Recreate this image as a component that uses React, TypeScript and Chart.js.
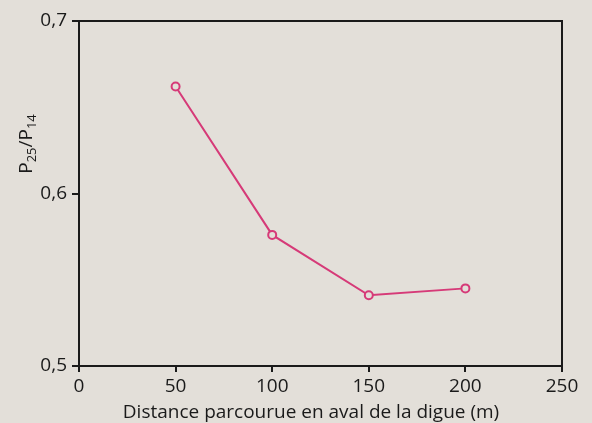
import React, { useEffect, useRef } from "react";
import { Chart, registerables } from "chart.js";

Chart.register(...registerables);

const distances = [50, 100, 150, 200];
const ratios = [0.662, 0.576, 0.541, 0.545];
const xTicks = [0, 50, 100, 150, 200, 250];
const yTicks = [0.5, 0.6, 0.7];
const xTitle = "Distance parcourue en aval de la digue (m)";
const yTitleParts = [
  { t: "P", sub: false },
  { t: "25", sub: true },
  { t: "/P", sub: false },
  { t: "14", sub: true },
];

const BG = "#e3dfd9";
const LINE = "#d63a78";
const FONT = "'Open Sans', sans-serif";
const INK = "#1a1a1a";

const framePlugin = {
  id: "frame",
  beforeDraw(chart: any) {
    const { ctx, width, height } = chart;
    ctx.save();
    ctx.fillStyle = BG;
    ctx.fillRect(0, 0, width, height);
    ctx.restore();
  },
  afterDraw(chart: any) {
    const { ctx, chartArea } = chart;
    ctx.save();
    ctx.strokeStyle = INK;
    ctx.lineWidth = 2;
    ctx.beginPath();
    ctx.moveTo(chartArea.left, chartArea.top);
    ctx.lineTo(chartArea.right, chartArea.top);
    ctx.lineTo(chartArea.right, chartArea.bottom);
    ctx.stroke();
    // x title
    ctx.fillStyle = INK;
    ctx.font = `19px ${FONT}`;
    ctx.textAlign = "center";
    ctx.textBaseline = "alphabetic";
    ctx.fillText(xTitle, 311, 418);
    // y title with subscripts
    ctx.textAlign = "left";
    ctx.translate(32, 144);
    ctx.rotate(-Math.PI / 2);
    const big = `19px ${FONT}`;
    const small = `13px ${FONT}`;
    let total = 0;
    for (const p of yTitleParts) {
      ctx.font = p.sub ? small : big;
      total += ctx.measureText(p.t).width;
    }
    let x = -total / 2;
    for (const p of yTitleParts) {
      ctx.font = p.sub ? small : big;
      ctx.fillText(p.t, x, p.sub ? 4 : 0);
      x += ctx.measureText(p.t).width;
    }
    ctx.restore();
  },
};

export default function App() {
  const ref = useRef<HTMLCanvasElement>(null);
  useEffect(() => {
    document.body.style.margin = "0";
    document.body.style.background = BG;
    const chart = new Chart(ref.current!, {
      type: "line",
      data: {
        datasets: [
          {
            data: distances.map((d, i) => ({ x: d, y: ratios[i] })),
            borderColor: LINE,
            borderWidth: 2,
            pointRadius: 4,
            pointBorderWidth: 2,
            pointBorderColor: LINE,
            pointBackgroundColor: BG,
            tension: 0,
          },
        ],
      },
      options: {
        animation: false,
        responsive: false,
        layout: { padding: { left: 0, top: 21, right: 30, bottom: 0 } },
        plugins: { legend: { display: false }, tooltip: { enabled: false } },
        scales: {
          x: {
            type: "linear",
            min: 0,
            max: 250,
            afterBuildTicks: (s: any) => {
              s.ticks = xTicks.map((v) => ({ value: v }));
            },
            afterFit: (s: any) => {
              s.height = 57;
            },
            grid: {
              drawOnChartArea: false,
              drawTicks: true,
              tickLength: 6,
              color: INK,
              lineWidth: 2,
            },
            border: { display: true, color: INK, width: 2 },
            ticks: {
              color: INK,
              font: { family: FONT, size: 19 },
              padding: 3,
              maxRotation: 0,
              callback: (v: any) => String(v),
            },
          },
          y: {
            type: "linear",
            min: 0.5,
            max: 0.7,
            afterBuildTicks: (s: any) => {
              s.ticks = yTicks.map((v) => ({ value: v }));
            },
            afterFit: (s: any) => {
              s.width = 79;
            },
            grid: {
              drawOnChartArea: false,
              drawTicks: true,
              tickLength: 7,
              color: INK,
              lineWidth: 2,
            },
            border: { display: true, color: INK, width: 2 },
            ticks: {
              color: INK,
              font: { family: FONT, size: 19 },
              padding: 5,
              callback: (v: any) => Number(v).toFixed(1).replace(".", ","),
            },
          },
        },
      },
      plugins: [framePlugin],
    } as any);
    return () => chart.destroy();
  }, []);
  return <canvas ref={ref} width={592} height={423} style={{ display: "block" }} />;
}
